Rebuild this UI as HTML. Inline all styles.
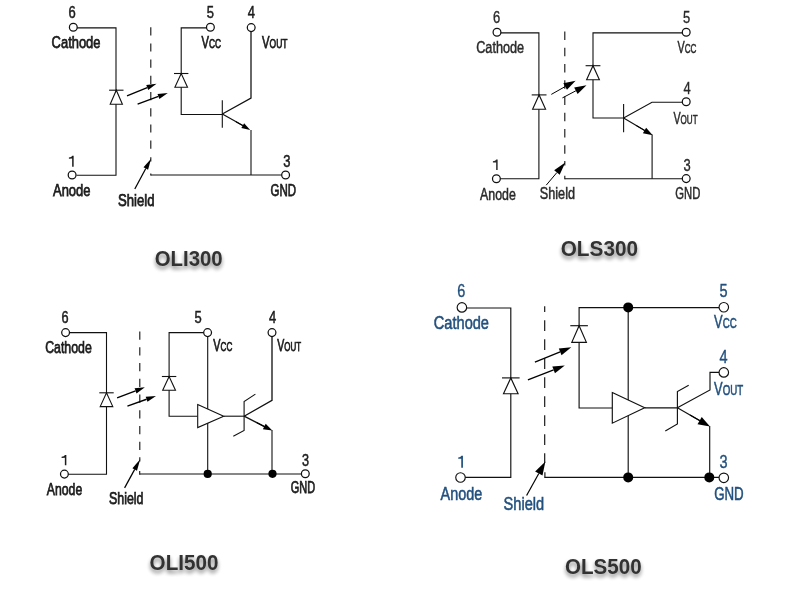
<!DOCTYPE html>
<html><head><meta charset="utf-8"><title>Optocoupler schematics</title>
<style>
html,body{margin:0;padding:0;background:#fff;}
body{width:797px;height:609px;overflow:hidden;font-family:"Liberation Sans",sans-serif;}
svg{display:block;font-family:"Liberation Sans",sans-serif;}
</style></head><body>
<svg width="797" height="609" viewBox="0 0 797 609">
<defs>
<filter id="ds" x="-10%" y="-40%" width="120%" height="200%">
<feGaussianBlur in="SourceAlpha" stdDeviation="2.1" result="b"/>
<feOffset in="b" dx="0" dy="3" result="o"/>
<feComponentTransfer in="o" result="s"><feFuncA type="linear" slope="0.5"/></feComponentTransfer>
<feMerge><feMergeNode in="s"/><feMergeNode in="SourceGraphic"/></feMerge>
</filter>
</defs>
<rect width="797" height="609" fill="#fff"/>
<g style="opacity:0.999">
<path d="M76.50,27.90 L116.00,27.90 L116.00,175.20 L76.50,175.20" fill="none" stroke="#111" stroke-width="1.1" stroke-linecap="butt" stroke-linejoin="miter"/>
<path d="M110.20,104.20 L122.40,104.20 L116.30,90.20 Z" fill="#fff" stroke="#111" stroke-width="1.1" stroke-linejoin="miter"/>
<path d="M109.10,90.20 L123.50,90.20" fill="none" stroke="#111" stroke-width="1.1" stroke-linecap="butt" stroke-linejoin="miter"/>
<path d="M150.80,27.20 L150.80,149.40" fill="none" stroke="#111" stroke-width="1.1" stroke-linecap="butt" stroke-linejoin="miter" stroke-dasharray="8.2 8.0" stroke-dashoffset="0"/>
<path d="M150.80,157.30 L150.80,161.40" fill="none" stroke="#111" stroke-width="1.1" stroke-linecap="butt" stroke-linejoin="miter"/>
<path d="M207.00,27.90 L181.20,27.90 L181.20,114.50 L222.30,114.50" fill="none" stroke="#111" stroke-width="1.1" stroke-linecap="butt" stroke-linejoin="miter"/>
<path d="M174.90,87.30 L187.50,87.30 L181.20,73.50 Z" fill="#fff" stroke="#111" stroke-width="1.1" stroke-linejoin="miter"/>
<path d="M174.00,73.50 L188.40,73.50" fill="none" stroke="#111" stroke-width="1.1" stroke-linecap="butt" stroke-linejoin="miter"/>
<path d="M222.30,100.20 L222.30,127.80" fill="none" stroke="#111" stroke-width="1.1" stroke-linecap="butt" stroke-linejoin="miter"/>
<path d="M222.30,114.00 L251.00,98.10 L251.00,31.00" fill="none" stroke="#111" stroke-width="1.265" stroke-linecap="butt" stroke-linejoin="miter"/>
<path d="M222.30,114.00 L246.00,127.30" fill="none" stroke="#111" stroke-width="1.265" stroke-linecap="butt" stroke-linejoin="miter"/>
<path d="M236.00,121.80 L242.73,125.64" fill="none" stroke="#000" stroke-width="1.1" stroke-linecap="butt" stroke-linejoin="miter"/>
<path d="M250.20,129.90 L241.34,128.07 L244.12,123.21 Z" fill="#000"/>
<path d="M251.00,130.00 L251.00,175.00" fill="none" stroke="#111" stroke-width="1.1" stroke-linecap="butt" stroke-linejoin="miter"/>
<path d="M150.80,175.00 L282.00,175.00" fill="none" stroke="#111" stroke-width="1.1" stroke-linecap="butt" stroke-linejoin="miter"/>
<path d="M150.80,173.60 L150.80,175.50" fill="none" stroke="#111" stroke-width="1.1" stroke-linecap="butt" stroke-linejoin="miter"/>
<path d="M127.00,95.80 L147.24,87.57" fill="none" stroke="#000" stroke-width="1.4" stroke-linecap="butt" stroke-linejoin="miter"/>
<path d="M156.50,83.80 L148.25,90.07 L146.22,85.07 Z" fill="#000"/>
<path d="M137.60,104.20 L158.43,96.40" fill="none" stroke="#000" stroke-width="1.4" stroke-linecap="butt" stroke-linejoin="miter"/>
<path d="M167.80,92.90 L159.38,98.93 L157.49,93.88 Z" fill="#000"/>
<path d="M134.80,189.00 L145.79,168.56" fill="none" stroke="#000" stroke-width="1.25" stroke-linecap="butt" stroke-linejoin="miter"/>
<path d="M151.10,158.70 L148.08,169.80 L143.50,167.33 Z" fill="#000"/>
<circle cx="73.3" cy="27.2" r="3.9" fill="#fff" stroke="#111" stroke-width="1.25"/>
<circle cx="210.4" cy="27.2" r="3.9" fill="#fff" stroke="#111" stroke-width="1.25"/>
<circle cx="251.2" cy="27.6" r="3.9" fill="#fff" stroke="#111" stroke-width="1.25"/>
<circle cx="72.1" cy="175.0" r="3.9" fill="#fff" stroke="#111" stroke-width="1.25"/>
<circle cx="285.6" cy="175.0" r="3.9" fill="#fff" stroke="#111" stroke-width="1.25"/>
<text x="72" y="17.9" font-size="16.0" text-anchor="middle" fill="#1c1c1c" font-weight="normal" textLength="7.21" lengthAdjust="spacingAndGlyphs" stroke="#1c1c1c" stroke-width="0.52">6</text>
<text x="210.4" y="17.9" font-size="16.0" text-anchor="middle" fill="#1c1c1c" font-weight="normal" textLength="7.21" lengthAdjust="spacingAndGlyphs" stroke="#1c1c1c" stroke-width="0.52">5</text>
<text x="251.4" y="17.9" font-size="16.0" text-anchor="middle" fill="#1c1c1c" font-weight="normal" textLength="7.21" lengthAdjust="spacingAndGlyphs" stroke="#1c1c1c" stroke-width="0.52">4</text>
<path d="M72.15,166.70 L73.65,166.70 L73.65,155.70 L72.30,155.70 Q71.55,157.20 68.90,157.45 L68.90,158.65 L72.15,158.55 Z" fill="#1c1c1c"/>
<text x="286.8" y="166.9" font-size="16.0" text-anchor="middle" fill="#1c1c1c" font-weight="normal" textLength="7.21" lengthAdjust="spacingAndGlyphs" stroke="#1c1c1c" stroke-width="0.52">3</text>
<text x="51.6" y="48.1" font-size="16.2" text-anchor="start" fill="#1c1c1c" font-weight="normal" textLength="48.9" lengthAdjust="spacingAndGlyphs" stroke="#1c1c1c" stroke-width="0.75">Cathode</text>
<text x="201.5" y="48.1" font-size="16.2" fill="#1c1c1c" stroke="#1c1c1c" stroke-width="0.75" textLength="19.5" lengthAdjust="spacingAndGlyphs">V<tspan font-size="12.2">CC</tspan></text>
<text x="262" y="48.1" font-size="16.2" fill="#1c1c1c" stroke="#1c1c1c" stroke-width="0.75" textLength="25.5" lengthAdjust="spacingAndGlyphs">V<tspan font-size="12.2">OUT</tspan></text>
<text x="53" y="196.4" font-size="16.2" text-anchor="start" fill="#1c1c1c" font-weight="normal" textLength="37.5" lengthAdjust="spacingAndGlyphs" stroke="#1c1c1c" stroke-width="0.75">Anode</text>
<text x="118" y="205.8" font-size="16.2" text-anchor="start" fill="#1c1c1c" font-weight="normal" textLength="36.5" lengthAdjust="spacingAndGlyphs" stroke="#1c1c1c" stroke-width="0.75">Shield</text>
<text x="270.6" y="196.3" font-size="16.2" text-anchor="start" fill="#1c1c1c" font-weight="normal" textLength="25.5" lengthAdjust="spacingAndGlyphs" stroke="#1c1c1c" stroke-width="0.75">GND</text>
<text x="154.7" y="265.7" font-size="21.3" font-weight="bold" fill="#333" textLength="68.0" lengthAdjust="spacingAndGlyphs" filter="url(#ds)">OLI300</text>
<path d="M500.00,32.90 L538.90,32.90 L538.90,178.70 L500.00,178.70" fill="none" stroke="#111" stroke-width="1.1" stroke-linecap="butt" stroke-linejoin="miter"/>
<path d="M532.60,109.20 L545.60,109.20 L539.10,94.90 Z" fill="#fff" stroke="#111" stroke-width="1.1" stroke-linejoin="miter"/>
<path d="M531.70,94.90 L546.50,94.90" fill="none" stroke="#111" stroke-width="1.1" stroke-linecap="butt" stroke-linejoin="miter"/>
<path d="M564.80,31.60 L564.80,154.20" fill="none" stroke="#111" stroke-width="1.1" stroke-linecap="butt" stroke-linejoin="miter" stroke-dasharray="8.3 7.95" stroke-dashoffset="0"/>
<path d="M564.80,161.10 L564.80,165.60" fill="none" stroke="#111" stroke-width="1.1" stroke-linecap="butt" stroke-linejoin="miter"/>
<path d="M564.80,175.70 L564.80,179.30" fill="none" stroke="#111" stroke-width="1.1" stroke-linecap="butt" stroke-linejoin="miter"/>
<path d="M683.00,32.90 L593.00,32.90 L593.00,118.00 L623.60,118.00" fill="none" stroke="#111" stroke-width="1.1" stroke-linecap="butt" stroke-linejoin="miter"/>
<path d="M586.60,79.80 L599.40,79.80 L593.00,65.70 Z" fill="#fff" stroke="#111" stroke-width="1.1" stroke-linejoin="miter"/>
<path d="M585.60,65.70 L600.40,65.70" fill="none" stroke="#111" stroke-width="1.1" stroke-linecap="butt" stroke-linejoin="miter"/>
<path d="M623.60,104.10 L623.60,132.20" fill="none" stroke="#111" stroke-width="1.1" stroke-linecap="butt" stroke-linejoin="miter"/>
<path d="M623.60,118.00 L652.00,102.20 L683.00,102.20" fill="none" stroke="#111" stroke-width="1.1" stroke-linecap="butt" stroke-linejoin="miter"/>
<path d="M623.60,118.00 L646.00,131.30" fill="none" stroke="#111" stroke-width="1.1" stroke-linecap="butt" stroke-linejoin="miter"/>
<path d="M636.00,125.40 L644.51,130.39" fill="none" stroke="#000" stroke-width="1.1" stroke-linecap="butt" stroke-linejoin="miter"/>
<path d="M652.70,135.20 L642.89,133.15 L646.13,127.63 Z" fill="#000"/>
<path d="M652.10,134.60 L652.10,178.70" fill="none" stroke="#111" stroke-width="1.1" stroke-linecap="butt" stroke-linejoin="miter"/>
<path d="M564.80,178.70 L683.00,178.70" fill="none" stroke="#111" stroke-width="1.1" stroke-linecap="butt" stroke-linejoin="miter"/>
<path d="M551.30,94.40 L565.15,86.59" fill="none" stroke="#000" stroke-width="1.0" stroke-linecap="butt" stroke-linejoin="miter"/>
<path d="M575.60,80.70 L566.96,89.82 L563.33,83.37 Z" fill="#000"/>
<path d="M562.40,97.90 L575.88,90.79" fill="none" stroke="#000" stroke-width="1.0" stroke-linecap="butt" stroke-linejoin="miter"/>
<path d="M586.50,85.20 L577.61,94.07 L574.16,87.52 Z" fill="#000"/>
<path d="M546.20,185.20 L556.91,172.53" fill="none" stroke="#000" stroke-width="1.0" stroke-linecap="butt" stroke-linejoin="miter"/>
<path d="M565.30,162.60 L559.66,174.85 L554.16,170.21 Z" fill="#000"/>
<circle cx="497.0" cy="32.2" r="3.9" fill="#fff" stroke="#111" stroke-width="1.25"/>
<circle cx="686.2" cy="32.2" r="3.9" fill="#fff" stroke="#111" stroke-width="1.25"/>
<circle cx="686.2" cy="101.8" r="3.9" fill="#fff" stroke="#111" stroke-width="1.25"/>
<circle cx="496.4" cy="178.8" r="3.9" fill="#fff" stroke="#111" stroke-width="1.25"/>
<circle cx="686.2" cy="178.6" r="3.9" fill="#fff" stroke="#111" stroke-width="1.25"/>
<text x="496.6" y="22.9" font-size="16.0" text-anchor="middle" fill="#2a2a2a" font-weight="normal" textLength="7.21" lengthAdjust="spacingAndGlyphs" stroke="#2a2a2a" stroke-width="0.35">6</text>
<text x="686.7" y="22.9" font-size="16.0" text-anchor="middle" fill="#2a2a2a" font-weight="normal" textLength="7.21" lengthAdjust="spacingAndGlyphs" stroke="#2a2a2a" stroke-width="0.35">5</text>
<text x="687" y="94.3" font-size="16.0" text-anchor="middle" fill="#2a2a2a" font-weight="normal" textLength="7.21" lengthAdjust="spacingAndGlyphs" stroke="#2a2a2a" stroke-width="0.35">4</text>
<path d="M496.15,170.00 L497.65,170.00 L497.65,159.60 L496.30,159.60 Q495.55,161.10 492.90,161.35 L492.90,162.55 L496.15,162.45 Z" fill="#2a2a2a"/>
<text x="687.2" y="171.1" font-size="16.0" text-anchor="middle" fill="#2a2a2a" font-weight="normal" textLength="7.21" lengthAdjust="spacingAndGlyphs" stroke="#2a2a2a" stroke-width="0.35">3</text>
<text x="476.2" y="53.0" font-size="16.2" text-anchor="start" fill="#2a2a2a" font-weight="normal" textLength="47.9" lengthAdjust="spacingAndGlyphs" stroke="#2a2a2a" stroke-width="0.5">Cathode</text>
<text x="677.4" y="53.1" font-size="16.2" fill="#2a2a2a" stroke="#2a2a2a" stroke-width="0.5" textLength="19" lengthAdjust="spacingAndGlyphs">V<tspan font-size="12.2">CC</tspan></text>
<text x="673.4" y="123.9" font-size="16.2" fill="#2a2a2a" stroke="#2a2a2a" stroke-width="0.5" textLength="24.2" lengthAdjust="spacingAndGlyphs">V<tspan font-size="12.2">OUT</tspan></text>
<text x="480" y="199.5" font-size="16.2" text-anchor="start" fill="#2a2a2a" font-weight="normal" textLength="35.8" lengthAdjust="spacingAndGlyphs" stroke="#2a2a2a" stroke-width="0.5">Anode</text>
<text x="539.8" y="199.4" font-size="16.2" text-anchor="start" fill="#2a2a2a" font-weight="normal" textLength="35.2" lengthAdjust="spacingAndGlyphs" stroke="#2a2a2a" stroke-width="0.5">Shield</text>
<text x="675.3" y="199.4" font-size="16.2" text-anchor="start" fill="#2a2a2a" font-weight="normal" textLength="25.0" lengthAdjust="spacingAndGlyphs" stroke="#2a2a2a" stroke-width="0.5">GND</text>
<text x="560.7" y="255.8" font-size="21.3" font-weight="bold" fill="#333" textLength="77.4" lengthAdjust="spacingAndGlyphs" filter="url(#ds)">OLS300</text>
<path d="M69.00,332.60 L106.50,332.60 L106.50,474.30 L68.00,474.30" fill="none" stroke="#111" stroke-width="1.1" stroke-linecap="butt" stroke-linejoin="miter"/>
<path d="M100.20,406.60 L112.80,406.60 L106.50,392.80 Z" fill="#fff" stroke="#111" stroke-width="1.1" stroke-linejoin="miter"/>
<path d="M99.30,392.80 L113.70,392.80" fill="none" stroke="#111" stroke-width="1.1" stroke-linecap="butt" stroke-linejoin="miter"/>
<path d="M139.80,331.60 L139.80,450.00" fill="none" stroke="#111" stroke-width="1.1" stroke-linecap="butt" stroke-linejoin="miter" stroke-dasharray="8.1 7.65" stroke-dashoffset="0"/>
<path d="M139.80,457.30 L139.80,461.50" fill="none" stroke="#111" stroke-width="1.1" stroke-linecap="butt" stroke-linejoin="miter"/>
<path d="M139.70,470.90 L139.70,474.80" fill="none" stroke="#111" stroke-width="1.1" stroke-linecap="butt" stroke-linejoin="miter"/>
<path d="M204.50,332.60 L169.10,332.60 L169.10,416.20 L197.70,416.20" fill="none" stroke="#111" stroke-width="1.1" stroke-linecap="butt" stroke-linejoin="miter"/>
<path d="M162.70,390.30 L175.50,390.30 L169.10,376.50 Z" fill="#fff" stroke="#111" stroke-width="1.1" stroke-linejoin="miter"/>
<path d="M161.90,376.50 L176.30,376.50" fill="none" stroke="#111" stroke-width="1.1" stroke-linecap="butt" stroke-linejoin="miter"/>
<path d="M207.70,336.00 L207.70,474.00" fill="none" stroke="#111" stroke-width="1.1" stroke-linecap="butt" stroke-linejoin="miter"/>
<path d="M197.7,404.6 L223.7,416.2 L197.7,427.6 Z" fill="#fff" stroke="#111" stroke-width="1.1"/>
<path d="M223.70,416.20 L244.10,416.20" fill="none" stroke="#111" stroke-width="1.1" stroke-linecap="butt" stroke-linejoin="miter"/>
<path d="M255.40,394.10 L244.10,401.60 L244.10,430.50 L233.30,436.30" fill="none" stroke="#111" stroke-width="1.1" stroke-linecap="butt" stroke-linejoin="miter"/>
<path d="M244.10,416.20 L272.00,400.40 L272.00,336.00" fill="none" stroke="#111" stroke-width="1.32" stroke-linecap="butt" stroke-linejoin="miter"/>
<path d="M244.10,416.20 L266.00,427.40" fill="none" stroke="#111" stroke-width="1.32" stroke-linecap="butt" stroke-linejoin="miter"/>
<path d="M257.00,422.80 L264.28,426.51" fill="none" stroke="#000" stroke-width="1.1" stroke-linecap="butt" stroke-linejoin="miter"/>
<path d="M272.30,430.60 L262.87,429.27 L265.69,423.75 Z" fill="#000"/>
<path d="M272.00,430.00 L272.00,474.00" fill="none" stroke="#111" stroke-width="1.1" stroke-linecap="butt" stroke-linejoin="miter"/>
<path d="M139.80,474.00 L302.00,474.00" fill="none" stroke="#111" stroke-width="1.1" stroke-linecap="butt" stroke-linejoin="miter"/>
<path d="M117.10,397.90 L135.56,390.86" fill="none" stroke="#000" stroke-width="1.4" stroke-linecap="butt" stroke-linejoin="miter"/>
<path d="M144.90,387.30 L136.52,393.39 L134.59,388.34 Z" fill="#000"/>
<path d="M127.40,406.10 L146.58,399.26" fill="none" stroke="#000" stroke-width="1.4" stroke-linecap="butt" stroke-linejoin="miter"/>
<path d="M156.00,395.90 L147.49,401.80 L145.67,396.72 Z" fill="#000"/>
<path d="M124.60,487.90 L134.69,469.40" fill="none" stroke="#000" stroke-width="1.25" stroke-linecap="butt" stroke-linejoin="miter"/>
<path d="M140.20,459.30 L136.98,470.64 L132.41,468.15 Z" fill="#000"/>
<circle cx="207.7" cy="473.9" r="4.1" fill="#000"/>
<circle cx="272.5" cy="473.8" r="4.1" fill="#000"/>
<circle cx="65.6" cy="332.6" r="3.9" fill="#fff" stroke="#111" stroke-width="1.25"/>
<circle cx="207.6" cy="332.6" r="3.9" fill="#fff" stroke="#111" stroke-width="1.25"/>
<circle cx="272" cy="332.6" r="3.9" fill="#fff" stroke="#111" stroke-width="1.25"/>
<circle cx="64.4" cy="474.1" r="3.9" fill="#fff" stroke="#111" stroke-width="1.25"/>
<circle cx="305.3" cy="473.7" r="3.9" fill="#fff" stroke="#111" stroke-width="1.25"/>
<text x="65.1" y="323.1" font-size="15.7" text-anchor="middle" fill="#1c1c1c" font-weight="normal" textLength="7.07" lengthAdjust="spacingAndGlyphs" stroke="#1c1c1c" stroke-width="0.52">6</text>
<text x="198.2" y="322.9" font-size="16.0" text-anchor="middle" fill="#1c1c1c" font-weight="normal" textLength="7.21" lengthAdjust="spacingAndGlyphs" stroke="#1c1c1c" stroke-width="0.52">5</text>
<text x="272.5" y="322.9" font-size="16.0" text-anchor="middle" fill="#1c1c1c" font-weight="normal" textLength="7.21" lengthAdjust="spacingAndGlyphs" stroke="#1c1c1c" stroke-width="0.52">4</text>
<path d="M64.85,465.30 L66.35,465.30 L66.35,455.00 L65.00,455.00 Q64.25,456.50 61.60,456.75 L61.60,457.95 L64.85,457.85 Z" fill="#1c1c1c"/>
<text x="305.6" y="466.2" font-size="15.6" text-anchor="middle" fill="#1c1c1c" font-weight="normal" textLength="7.03" lengthAdjust="spacingAndGlyphs" stroke="#1c1c1c" stroke-width="0.52">3</text>
<text x="45.2" y="352.8" font-size="16.2" text-anchor="start" fill="#1c1c1c" font-weight="normal" textLength="46.6" lengthAdjust="spacingAndGlyphs" stroke="#1c1c1c" stroke-width="0.75">Cathode</text>
<text x="213.3" y="351.3" font-size="16.2" fill="#1c1c1c" stroke="#1c1c1c" stroke-width="0.75" textLength="19" lengthAdjust="spacingAndGlyphs">V<tspan font-size="12.2">CC</tspan></text>
<text x="277.3" y="351.3" font-size="16.2" fill="#1c1c1c" stroke="#1c1c1c" stroke-width="0.75" textLength="23.8" lengthAdjust="spacingAndGlyphs">V<tspan font-size="12.2">OUT</tspan></text>
<text x="46.8" y="494.5" font-size="16.2" text-anchor="start" fill="#1c1c1c" font-weight="normal" textLength="35.4" lengthAdjust="spacingAndGlyphs" stroke="#1c1c1c" stroke-width="0.75">Anode</text>
<text x="109" y="503.8" font-size="16.2" text-anchor="start" fill="#1c1c1c" font-weight="normal" textLength="34.4" lengthAdjust="spacingAndGlyphs" stroke="#1c1c1c" stroke-width="0.75">Shield</text>
<text x="290.8" y="493.0" font-size="15.7" text-anchor="start" fill="#1c1c1c" font-weight="normal" textLength="24.4" lengthAdjust="spacingAndGlyphs" stroke="#1c1c1c" stroke-width="0.75">GND</text>
<text x="149.6" y="570.2" font-size="21.3" font-weight="bold" fill="#333" textLength="68.8" lengthAdjust="spacingAndGlyphs" filter="url(#ds)">OLI500</text>
<path d="M466.00,308.00 L510.80,308.00 L510.80,477.40 L464.00,477.40" fill="none" stroke="#111" stroke-width="1.15" stroke-linecap="butt" stroke-linejoin="miter"/>
<path d="M503.50,393.70 L518.10,393.70 L510.80,377.90 Z" fill="#fff" stroke="#111" stroke-width="1.15" stroke-linejoin="miter"/>
<path d="M502.00,377.90 L519.60,377.90" fill="none" stroke="#111" stroke-width="1.15" stroke-linecap="butt" stroke-linejoin="miter"/>
<path d="M544.70,306.30 L544.70,463.00" fill="none" stroke="#111" stroke-width="1.15" stroke-linecap="butt" stroke-linejoin="miter" stroke-dasharray="10.7 8.3" stroke-dashoffset="5"/>
<path d="M544.90,472.30 L544.90,478.00" fill="none" stroke="#111" stroke-width="1.15" stroke-linecap="butt" stroke-linejoin="miter"/>
<path d="M720.00,307.60 L579.10,307.60 L579.10,408.00 L612.30,408.00" fill="none" stroke="#111" stroke-width="1.15" stroke-linecap="butt" stroke-linejoin="miter"/>
<path d="M571.80,342.30 L586.40,342.30 L579.10,325.70 Z" fill="#fff" stroke="#111" stroke-width="1.15" stroke-linejoin="miter"/>
<path d="M570.30,325.70 L587.90,325.70" fill="none" stroke="#111" stroke-width="1.15" stroke-linecap="butt" stroke-linejoin="miter"/>
<path d="M628.20,307.60 L628.20,477.40" fill="none" stroke="#111" stroke-width="1.15" stroke-linecap="butt" stroke-linejoin="miter"/>
<path d="M612.3,392.6 L644.7,407.8 L612.3,423.2 Z" fill="#fff" stroke="#111" stroke-width="1.15"/>
<path d="M644.70,407.80 L677.40,407.80" fill="none" stroke="#111" stroke-width="1.15" stroke-linecap="butt" stroke-linejoin="miter"/>
<path d="M688.70,385.20 L677.40,391.60 L677.40,423.90 L665.30,431.00" fill="none" stroke="#111" stroke-width="1.15" stroke-linecap="butt" stroke-linejoin="miter"/>
<path d="M720.00,372.40 L710.00,372.40 L710.00,390.00 L677.40,407.80" fill="none" stroke="#111" stroke-width="1.15" stroke-linecap="butt" stroke-linejoin="miter"/>
<path d="M677.40,407.80 L703.00,422.60" fill="none" stroke="#111" stroke-width="1.15" stroke-linecap="butt" stroke-linejoin="miter"/>
<path d="M690.00,415.00 L699.62,420.58" fill="none" stroke="#000" stroke-width="1.15" stroke-linecap="butt" stroke-linejoin="miter"/>
<path d="M710.00,426.60 L697.51,424.21 L701.73,416.95 Z" fill="#000"/>
<path d="M709.70,426.00 L709.70,477.40" fill="none" stroke="#111" stroke-width="1.15" stroke-linecap="butt" stroke-linejoin="miter"/>
<path d="M544.70,477.40 L720.00,477.40" fill="none" stroke="#111" stroke-width="1.15" stroke-linecap="butt" stroke-linejoin="miter"/>
<path d="M534.90,362.10 L560.18,351.82" fill="none" stroke="#000" stroke-width="1.3" stroke-linecap="butt" stroke-linejoin="miter"/>
<path d="M571.30,347.30 L561.54,355.15 L558.83,348.48 Z" fill="#000"/>
<path d="M527.90,379.90 L553.63,369.79" fill="none" stroke="#000" stroke-width="1.3" stroke-linecap="butt" stroke-linejoin="miter"/>
<path d="M564.80,365.40 L554.95,373.14 L552.31,366.44 Z" fill="#000"/>
<path d="M526.60,495.50 L538.80,473.49" fill="none" stroke="#000" stroke-width="1.2" stroke-linecap="butt" stroke-linejoin="miter"/>
<path d="M545.40,461.60 L542.48,475.53 L535.13,471.46 Z" fill="#000"/>
<circle cx="628.2" cy="307.4" r="5" fill="#000"/>
<circle cx="628.2" cy="477.4" r="5" fill="#000"/>
<circle cx="709.3" cy="477.4" r="5" fill="#000"/>
<circle cx="461.9" cy="307.4" r="4.75" fill="#fff" stroke="#111" stroke-width="1.15"/>
<circle cx="723.8" cy="307.2" r="4.75" fill="#fff" stroke="#111" stroke-width="1.15"/>
<circle cx="723.8" cy="372.4" r="4.75" fill="#fff" stroke="#111" stroke-width="1.15"/>
<circle cx="460.5" cy="477.5" r="4.75" fill="#fff" stroke="#111" stroke-width="1.15"/>
<circle cx="723.8" cy="477.8" r="4.75" fill="#fff" stroke="#111" stroke-width="1.15"/>
<text x="461.4" y="296.7" font-size="17.9" text-anchor="middle" fill="#22507e" font-weight="normal" textLength="8.06" lengthAdjust="spacingAndGlyphs" stroke="#22507e" stroke-width="0.39">6</text>
<text x="723.5" y="296.7" font-size="17.9" text-anchor="middle" fill="#22507e" font-weight="normal" textLength="8.06" lengthAdjust="spacingAndGlyphs" stroke="#22507e" stroke-width="0.39">5</text>
<text x="723.5" y="363.2" font-size="17.9" text-anchor="middle" fill="#22507e" font-weight="normal" textLength="8.06" lengthAdjust="spacingAndGlyphs" stroke="#22507e" stroke-width="0.39">4</text>
<path d="M461.25,467.80 L462.95,467.80 L462.95,455.80 L461.40,455.80 Q460.65,457.30 458.20,457.55 L458.20,458.75 L461.25,458.65 Z" fill="#22507e"/>
<text x="723.5" y="468.2" font-size="17.9" text-anchor="middle" fill="#22507e" font-weight="normal" textLength="8.06" lengthAdjust="spacingAndGlyphs" stroke="#22507e" stroke-width="0.39">3</text>
<text x="433.8" y="328.6" font-size="18.3" text-anchor="start" fill="#22507e" font-weight="normal" textLength="55.2" lengthAdjust="spacingAndGlyphs" stroke="#22507e" stroke-width="0.55">Cathode</text>
<text x="714.1" y="328.2" font-size="18.3" fill="#22507e" stroke="#22507e" stroke-width="0.55" textLength="22.7" lengthAdjust="spacingAndGlyphs">V<tspan font-size="13.8">CC</tspan></text>
<text x="714.1" y="394.7" font-size="18.3" fill="#22507e" stroke="#22507e" stroke-width="0.55" textLength="29.1" lengthAdjust="spacingAndGlyphs">V<tspan font-size="13.8">OUT</tspan></text>
<text x="440.6" y="500.1" font-size="18.3" text-anchor="start" fill="#22507e" font-weight="normal" textLength="41.6" lengthAdjust="spacingAndGlyphs" stroke="#22507e" stroke-width="0.55">Anode</text>
<text x="503.6" y="509.6" font-size="18.3" text-anchor="start" fill="#22507e" font-weight="normal" textLength="40.6" lengthAdjust="spacingAndGlyphs" stroke="#22507e" stroke-width="0.55">Shield</text>
<text x="714.2" y="500.1" font-size="18.3" text-anchor="start" fill="#22507e" font-weight="normal" textLength="29.5" lengthAdjust="spacingAndGlyphs" stroke="#22507e" stroke-width="0.55">GND</text>
<text x="565.0" y="574.0" font-size="21.3" font-weight="bold" fill="#333" textLength="76.7" lengthAdjust="spacingAndGlyphs" filter="url(#ds)">OLS500</text>
</g>
</svg>
</body></html>
